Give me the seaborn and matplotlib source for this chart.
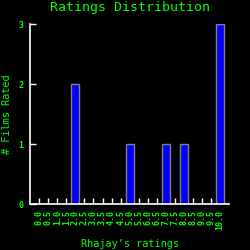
import matplotlib
matplotlib.use("Agg")
import matplotlib.pyplot as plt
import seaborn as sns
import pandas as pd

# ratings histogram data
ratings = ["0.0", "0.5", "1.0", "1.5", "2.0", "2.5", "3.0", "3.5", "4.0", "4.5", "5.0",
           "5.5", "6.0", "6.5", "7.0", "7.5", "8.0", "8.5", "9.0", "9.5", "10.0"]
counts = [0, 0, 0, 0, 2, 0, 0, 0, 0, 0, 1, 0, 0, 0, 1, 0, 1, 0, 0, 0, 3]
yticks = [0, 1, 2, 3]

green = "#00ff00"
sns.set_style("dark")
plt.rcParams['font.family'] = ['DejaVu Sans Mono', 'DejaVu Sans']

df = pd.DataFrame({"rating": ratings, "count": counts})

fig = plt.figure(figsize=(2.5, 2.5), dpi=100, facecolor="black")
ax = fig.add_axes([0.121, 0.183, 0.795, 0.72])
ax.set_facecolor("black")
sns.barplot(data=df, x="rating", y="count", order=ratings, color="#0000ff",
            saturation=1, width=0.9, edgecolor="#808080", linewidth=1, ax=ax)
ax.set_xlim(-1, 21)
ax.set_ylim(0, 3)
ax.set_yticks(yticks)
ax.grid(False)

for side in ["top", "right"]:
    ax.spines[side].set_visible(False)
for side in ["left", "bottom"]:
    ax.spines[side].set_visible(True)
    ax.spines[side].set_color("white")
    ax.spines[side].set_linewidth(1.2)

ax.tick_params(axis="x", bottom=True, direction="in", length=4, width=1, color="white",
               labelcolor=green, labelsize=6, rotation=90, pad=4)
ax.tick_params(axis="y", left=True, direction="in", length=4, width=1, color="white",
               labelcolor=green, labelsize=6, pad=5)
for lbl in ax.get_xticklabels() + ax.get_yticklabels():
    lbl.set_fontweight("bold")

ax.set_title("Ratings Distribution", color=green, fontsize=9.5, y=1.092, va="center", pad=0)
ax.set_xlabel("Rhajay’s ratings", color=green, fontsize=7.4, va="center")
ax.set_ylabel("# Films Rated", color=green, fontsize=7.4, va="center")
ax.xaxis.set_label_coords(0.5, -0.22)
ax.yaxis.set_label_coords(-0.117, 0.5)

fig.savefig("out.png", dpi=100, facecolor="black")
